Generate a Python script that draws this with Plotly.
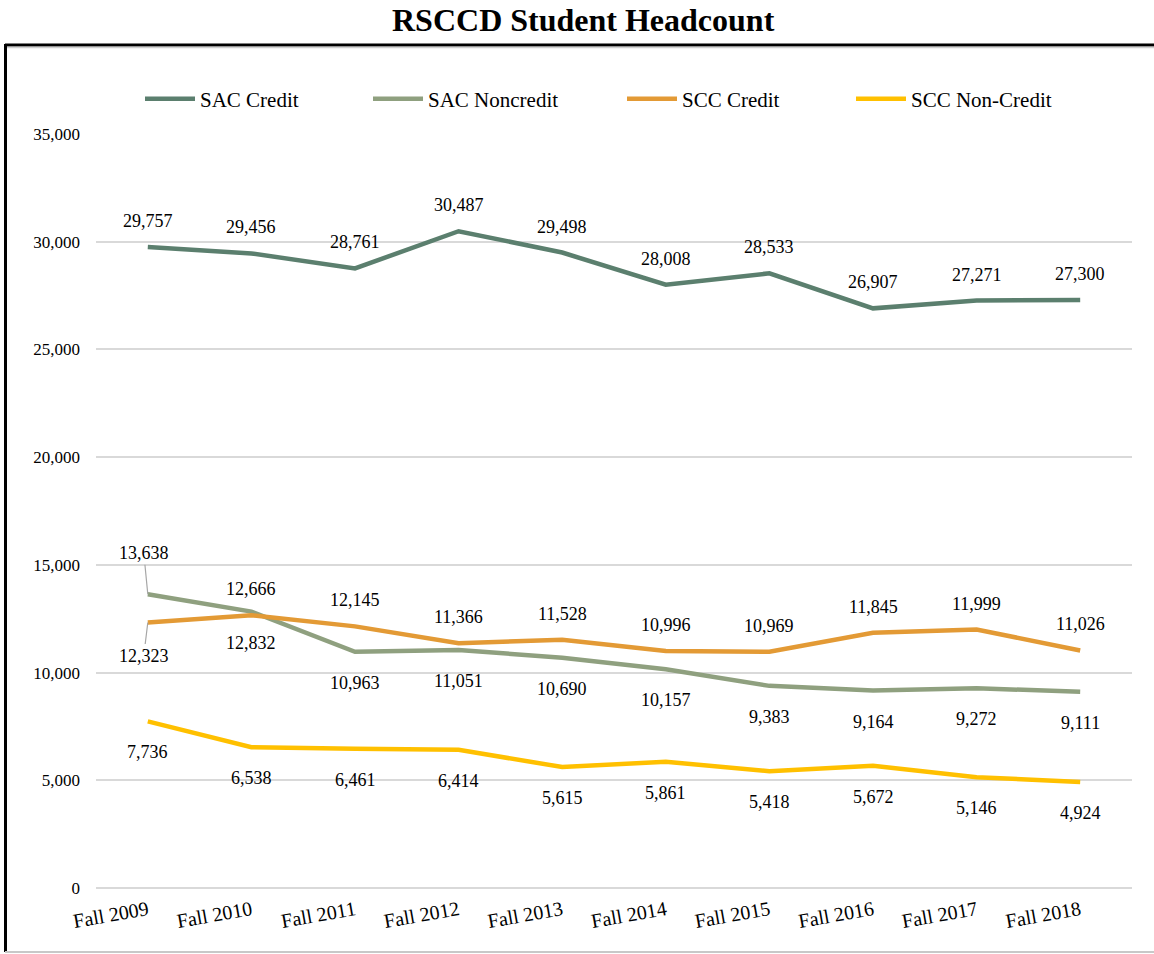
import plotly.graph_objects as go

categories = ["Fall 2009", "Fall 2010", "Fall 2011", "Fall 2012", "Fall 2013",
              "Fall 2014", "Fall 2015", "Fall 2016", "Fall 2017", "Fall 2018"]
sac_credit = [29757, 29456, 28761, 30487, 29498, 28008, 28533, 26907, 27271, 27300]
sac_noncredit = [13638, 12832, 10963, 11051, 10690, 10157, 9383, 9164, 9272, 9111]
scc_credit = [12323, 12666, 12145, 11366, 11528, 10996, 10969, 11845, 11999, 11026]
scc_noncredit = [7736, 6538, 6461, 6414, 5615, 5861, 5418, 5672, 5146, 4924]

series = [
    ("SAC Credit", sac_credit, "#5B7F6E", "legend"),
    ("SAC Noncredit", sac_noncredit, "#8FA07F", "legend2"),
    ("SCC Credit", scc_credit, "#E39A35", "legend3"),
    ("SCC Non-Credit", scc_noncredit, "#FFC000", "legend4"),
]

FONT = "Liberation Serif, Times New Roman, serif"

fig = go.Figure()
for name, vals, color, leg in series:
    fig.add_trace(go.Scatter(x=categories, y=vals, name=name, mode="lines",
                             line=dict(color=color, width=4.5), legend=leg,
                             hoverinfo="skip"))

# label placement: +1 above, -1 below
placement = {
    "SAC Credit": [1] * 10,
    "SAC Noncredit": [1] + [-1] * 9,
    "SCC Credit": [-1] + [1] * 9,
    "SCC Non-Credit": [-1] * 10,
}
annotations = []
for name, vals, color, leg in series:
    for i, (c, v) in enumerate(zip(categories, vals)):
        side = placement[name][i]
        txt = f"{v:,}"
        leader = (name == "SAC Noncredit" and i == 0) or (name == "SCC Credit" and i == 0)
        if leader:
            annotations.append(dict(
                x=c, y=v, xref="x", yref="y", text=txt, showarrow=True,
                arrowhead=0, arrowwidth=1.2, arrowcolor="#A6A6A6",
                ax=-4, ay=-41 if side > 0 else 33, standoff=0,
                font=dict(family=FONT, size=18, color="#000")))
        else:
            shift = 26 if side > 0 else -31
            annotations.append(dict(
                x=c, y=v, xref="x", yref="y", text=txt, showarrow=False,
                xanchor="center", yanchor="middle", yshift=shift,
                font=dict(family=FONT, size=18, color="#000")))

def px(xp):
    return (xp - 96) / 1036

def py(yp):
    return (888 - yp) / 754

# Title
annotations.append(dict(text="<b>RSCCD Student Headcount</b>", xref="paper", yref="paper",
                        x=px(583), y=py(20), xanchor="center",
                        yanchor="middle", showarrow=False,
                        font=dict(family=FONT, size=32, color="#000")))

shapes = [
    dict(type="line", xref="paper", yref="paper", x0=px(5), x1=px(1160), y0=py(45), y1=py(45),
         line=dict(color="#000", width=3)),
    dict(type="line", xref="paper", yref="paper", x0=px(5), x1=px(1160), y0=py(47.5), y1=py(47.5),
         line=dict(color="#D0D0D0", width=1.5)),
    dict(type="line", xref="paper", yref="paper", x0=px(5.5), x1=px(5.5), y0=py(952), y1=py(44),
         line=dict(color="#000", width=3)),
    dict(type="line", xref="paper", yref="paper", x0=px(5), x1=px(1160), y0=py(952), y1=py(952),
         line=dict(color="#C8C8C8", width=2)),
]

leg_common = dict(orientation="h", yanchor="middle", y=py(99), xanchor="left",
                  font=dict(family=FONT, size=21, color="#000"),
                  bgcolor="rgba(0,0,0,0)", itemwidth=50, tracegroupgap=0)

fig.update_layout(
    width=1154, height=954,
    margin=dict(l=96, r=22, t=134, b=66),
    paper_bgcolor="white", plot_bgcolor="white",
    showlegend=True,
    legend=dict(x=px(140), **leg_common),
    legend2=dict(x=px(368), **leg_common),
    legend3=dict(x=px(622), **leg_common),
    legend4=dict(x=px(851), **leg_common),
    xaxis=dict(type="category", showgrid=False, showline=False, zeroline=False,
               tickangle=-10, ticks="", tickfont=dict(family=FONT, size=20, color="#000"),
               range=[-0.5, 9.5], ticklabelstandoff=6),
    yaxis=dict(range=[0, 35000], tickvals=[0, 5000, 10000, 15000, 20000, 25000, 30000, 35000],
               tickformat=",", showgrid=True, gridcolor="#D9D9D9", gridwidth=2,
               zeroline=True, zerolinecolor="#D9D9D9", zerolinewidth=2,
               showline=False, ticks="",
               tickfont=dict(family=FONT, size=17, color="#000"), ticklabelstandoff=15),
    annotations=annotations,
    shapes=shapes,
)

fig.write_html("out.html", config={"displayModeBar": False},
               post_script="document.body.style.margin='0';document.body.style.overflow='hidden';")
